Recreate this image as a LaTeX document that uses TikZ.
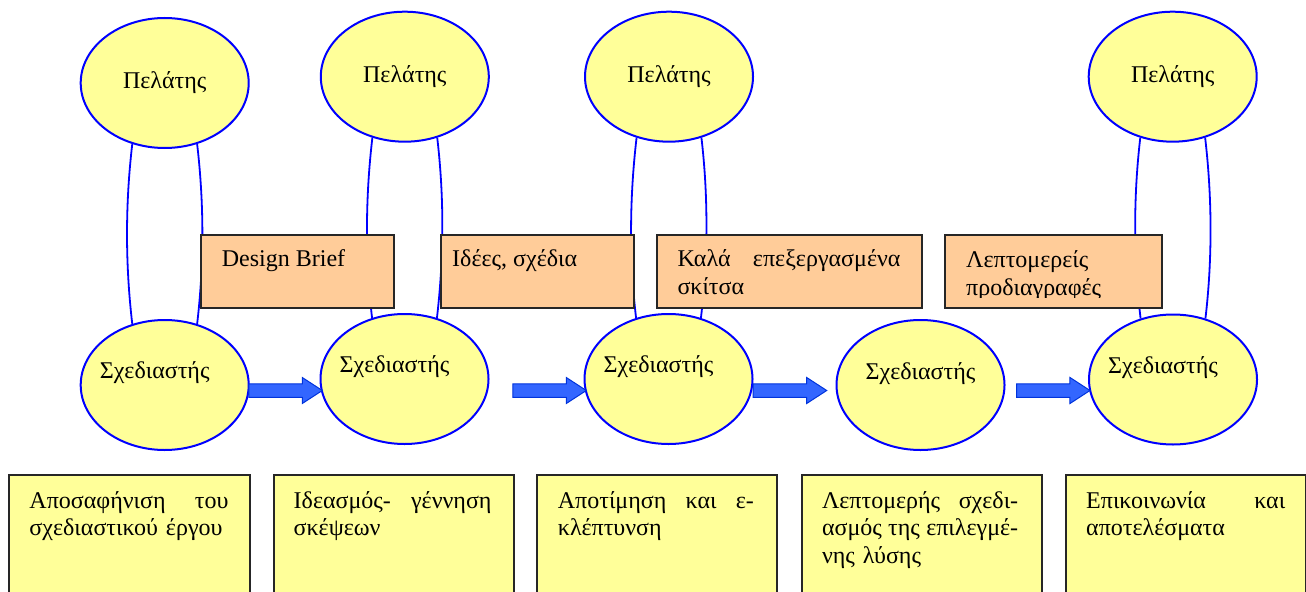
\documentclass[tikz,border=0pt]{standalone}
\usepackage{fontspec}
\setmainfont{Liberation Serif}
\usetikzlibrary{shapes.geometric,shapes.arrows}

\definecolor{cellyellow}{RGB}{255,255,153}
\definecolor{noteorange}{RGB}{255,204,153}
\definecolor{ringblue}{RGB}{0,0,255}
\definecolor{flowblue}{RGB}{51,102,255}
\definecolor{flowedge}{RGB}{0,51,220}

% a line of text spread over a fixed width
\newcommand{\spreadline}[2]{\leavevmode\hbox to #1{#2}}

\begin{document}
\begin{tikzpicture}[x=1bp,y=-1bp,
  every node/.style={font=\fontsize{24bp}{27.5bp}\selectfont},
  party/.style={ellipse, draw=ringblue, line width=2bp, fill=cellyellow,
    minimum width=168bp, minimum height=130bp, inner sep=0pt},
  designer/.style={party, label={[xshift=-10bp,yshift=12bp]center:Σχεδιαστής}},
  designermid/.style={party, label={[yshift=11bp]center:Σχεδιαστής}},
  tie/.style={draw=ringblue, line width=1.8bp},
  note/.style={draw=black!85, line width=2bp, fill=noteorange, inner sep=0pt,
    minimum height=72.7bp, anchor=north west},
  stage/.style={draw=black!85, line width=2bp, fill=cellyellow, inner sep=0pt,
    minimum height=140bp, minimum width=240.5bp, anchor=north west},
  notetext/.style={anchor=base west, inner sep=0pt, align=left},
  stagetext/.style={anchor=base west, inner sep=0pt, align=left},
  flow/.style={single arrow, draw=flowedge, line width=1bp, fill=flowblue,
    minimum height=73.5bp, minimum width=25bp, single arrow head extend=6.25bp,
    single arrow tip angle=66, inner xsep=0pt, inner ysep=6.25bp, anchor=tail}
]
\useasboundingbox (0,0) rectangle (1306,592);
\clip (0,0) rectangle (1306,592);

% clients (top row)
\node[party] (c1) at (164.7,83)   {Πελάτης};
\node[party] (c2) at (404.8,76.7) {Πελάτης};
\node[party] (c3) at (669,76.7)   {Πελάτης};
\node[party] (c4) at (1172.7,76.7){Πελάτης};

% designers (middle row)
\node[designer]    (d1) at (164.7,385) {};
\node[designer]    (d2) at (404.5,379) {};
\node[designer]    (d3) at (668.5,379) {};
\node[designermid] (d4) at (920.5,385) {};
\node[designer]    (d5) at (1173,379.5) {};

% client--designer links
\foreach \t/\b in {c1/d1, c2/d2, c3/d3, c4/d5} {
  \draw[tie] (\t.-118) .. controls +(-7,60) and +(-7,-60) .. (\b.118);
  \draw[tie] (\t.-62)  .. controls +(7,60)  and +(7,-60)  .. (\b.62);
}

% deliverables
\node[note, minimum width=192.7bp] (o1) at (200,234) {};
\node[note, minimum width=192.7bp] (o2) at (440,234) {};
\node[note, minimum width=265bp]   (o3) at (656,234) {};
\node[note, minimum width=216.7bp] (o4) at (944.3,234) {};

\node[notetext] (o1t) at ([shift={(21.7,32.7)}]o1.north west) {Design Brief};
\node[notetext] (o2t) at ([shift={(12,32.7)}]o2.north west) {Ιδέες, σχέδια};
\node[notetext, text width=223bp] (o3t) at ([shift={(21.3,32.7)}]o3.north west)
  {\spreadline{223bp}{Καλά\hfill επεξεργασμένα}\\σκίτσα};
\begin{scope}
  \clip (944.3,234) rectangle (1161,297);
  \node[notetext, text width=175bp] (o4t) at ([shift={(21.7,33.5)}]o4.north west)
    {Λεπτομερείς\\προδιαγραφές};
\end{scope}

% process stages
\node[stage] (s1) at (8.3,474)   {};
\node[stage] (s2) at (272.5,474) {};
\node[stage] (s3) at (535.8,474) {};
\node[stage] (s4) at (800.6,474) {};
\node[stage] (s5) at (1064.8,474){};

\node[stagetext, text width=199bp] (s1t) at ([shift={(21,34.3)}]s1.north west)
  {\spreadline{199bp}{Αποσαφήνιση\hfill του}\\σχεδιαστικού έργου};
\node[stagetext, text width=197.8bp] (s2t) at ([shift={(21,34.3)}]s2.north west)
  {\spreadline{197.8bp}{Ιδεασμός-\hfill γέννηση}\\σκέψεων};
\node[stagetext, text width=196bp] (s3t) at ([shift={(21.9,34.3)}]s3.north west)
  {\spreadline{196bp}{Αποτίμηση\hfill και\hfill ε-}\\κλέπτυνση};
\node[stagetext, text width=196.2bp] (s4t) at ([shift={(21.2,34.3)}]s4.north west)
  {\spreadline{196.2bp}{Λεπτομερής\hfill σχεδι-}\\\spreadline{196.2bp}{ασμός\hfill της\hfill επιλεγμέ-}\\νης λύσης};
\node[stagetext, text width=199bp] (s5t) at ([shift={(21.2,34.3)}]s5.north west)
  {\spreadline{199bp}{Επικοινωνία\hfill και}\\αποτελέσματα};

% flow arrows
\node[flow] (f1) at (248.3,390.5) {};
\node[flow] (f2) at (512.3,390.5) {};
\node[flow] (f3) at (752.7,390.5) {};
\node[flow] (f4) at (1016,390.5)  {};
\end{tikzpicture}
\end{document}
